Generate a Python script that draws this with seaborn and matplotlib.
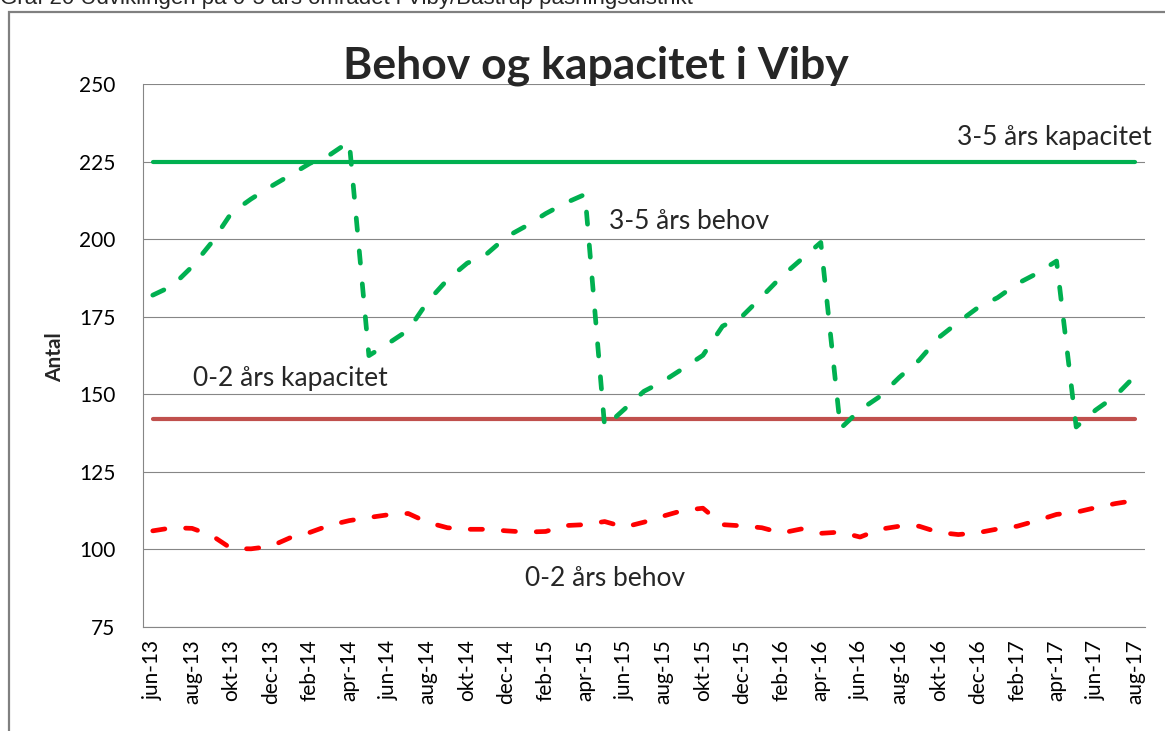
import numpy as np
import pandas as pd
import matplotlib
matplotlib.use("Agg")
import matplotlib.pyplot as plt
import seaborn as sns
from matplotlib.patches import Rectangle

# maanedsakse (kategori pr. maaned)
maaneder = ["jun-13", "jul-13", "aug-13", "sep-13", "okt-13", "nov-13", "dec-13",
            "jan-14", "feb-14", "mar-14", "apr-14", "maj-14", "jun-14", "jul-14",
            "aug-14", "sep-14", "okt-14", "nov-14", "dec-14",
            "jan-15", "feb-15", "mar-15", "apr-15", "maj-15", "jun-15", "jul-15",
            "aug-15", "sep-15", "okt-15", "nov-15", "dec-15",
            "jan-16", "feb-16", "mar-16", "apr-16", "maj-16", "jun-16", "jul-16",
            "aug-16", "sep-16", "okt-16", "nov-16", "dec-16",
            "jan-17", "feb-17", "mar-17", "apr-17", "maj-17", "jun-17", "jul-17",
            "aug-17"]

behov_3_5 = [182, 185, 191.2, 199, 208.5, 213, 217, 220.7, 224.5, 227.2, 231.5,
             162.5, 166.5, 170.7, 180, 187, 192.3, 195.3, 200.8, 204.3, 208.3, 211.7, 214.5,
             139.5, 145.2, 151, 154.3, 158.4, 162.6, 172, 175.2, 181.5, 188, 193.5, 199,
             139, 145, 149.3, 155.5, 161, 168.3, 173.3, 178, 181.2, 185.7, 189, 193,
             139.5, 145, 149.5, 156]

behov_0_2 = [106, 107, 106.8, 104.5, 100.3, 100.2, 101, 103.8, 105.5, 107.8, 109.3,
             110.3, 111.2, 111.6, 108.7, 107, 106.5, 106.5, 106, 105.6, 105.8, 107.7, 108,
             109, 107.2, 108.8, 110.8, 112.6, 113.3, 108, 107.6, 107, 105.3, 106.6, 105.2,
             105.6, 104, 106.5, 107.5, 107.5, 105.5, 104.8, 105.4, 106.6, 107.5, 109.3, 111.3,
             112, 113.5, 114.8, 115.8]

kapacitet_3_5 = 225
kapacitet_0_2 = 142

y_ticks = [75, 100, 125, 150, 175, 200, 225, 250]

df = pd.DataFrame({"pos": np.arange(len(maaneder)), "maaned": maaneder,
                   "b35": behov_3_5, "b02": behov_0_2})
df["k35"] = kapacitet_3_5
df["k02"] = kapacitet_0_2

sns.set_style("white")
plt.rcParams['font.family'] = ['Lato', 'DejaVu Sans']

fig = plt.figure(figsize=(11.65, 7.31), dpi=100)
ax = fig.add_axes([0.1227, 0.1423, 0.8601, 0.7424])

sns.lineplot(data=df, x="pos", y="k35", color="#00B050", lw=3.0, ax=ax)
sns.lineplot(data=df, x="pos", y="k02", color="#C0504D", lw=3.0, ax=ax)
dash = (0, (2.6, 4.4))
sns.lineplot(data=df, x="pos", y="b35", color="#00B050", lw=3.4, ax=ax,
             linestyle=dash, dash_capstyle="round")
sns.lineplot(data=df, x="pos", y="b02", color="#FF0000", lw=3.4, ax=ax,
             linestyle=dash, dash_capstyle="round")

ax.set_xlim(-0.5, len(maaneder) - 0.5)
ax.set_ylim(75, 250)
ax.set_yticks(y_ticks)
ax.set_xticks(df["pos"][::2])
ax.set_xticklabels(maaneder[::2], rotation=90)
ax.set_xlabel("")
ax.set_ylabel("")
ax.yaxis.grid(True, color="#868686", lw=0.8)
ax.xaxis.grid(False)
ax.set_axisbelow(True)
for s in ["top", "right"]:
    ax.spines[s].set_visible(False)
for s in ["left", "bottom"]:
    ax.spines[s].set_color("#868686")
    ax.spines[s].set_linewidth(0.8)
ax.tick_params(axis="y", length=0, pad=20, labelsize=15, colors="black")
ax.tick_params(axis="x", length=0, pad=9, labelsize=15, colors="black")

W, H = 1165, 731
fig.text(55 / W, 1 - 357 / H, "Antal", rotation=90, fontweight="bold",
         fontsize=15, ha="center", va="center")
fig.text(596 / W, 1 - 78 / H, "Behov og kapacitet i Viby", fontweight="bold",
         fontsize=32, ha="center", va="baseline")
fig.text(957 / W, 1 - 145 / H, "3-5 års kapacitet", fontsize=19, va="baseline")
fig.text(609 / W, 1 - 229 / H, "3-5 års behov", fontsize=19, va="baseline")
fig.text(193 / W, 1 - 386 / H, "0-2 års kapacitet", fontsize=19, va="baseline")
fig.text(525 / W, 1 - 586 / H, "0-2 års behov", fontsize=19, va="baseline")

# billedteksten er skaaret af i toppen ligesom i originalen
fig.text(0, 1 - 4 / H, "Graf 20 Udviklingen på 0-5 års området i Viby/Båstrup pasningsdistrikt",
         family=["Liberation Sans", "DejaVu Sans"], fontsize=16, va="baseline")
fig.add_artist(Rectangle((9 / W, -0.01), 1.1, 1 - 12 / H + 0.01, transform=fig.transFigure,
                         fill=False, edgecolor="#808080", lw=1.6, clip_on=False))

fig.savefig("out.png", dpi=100)
